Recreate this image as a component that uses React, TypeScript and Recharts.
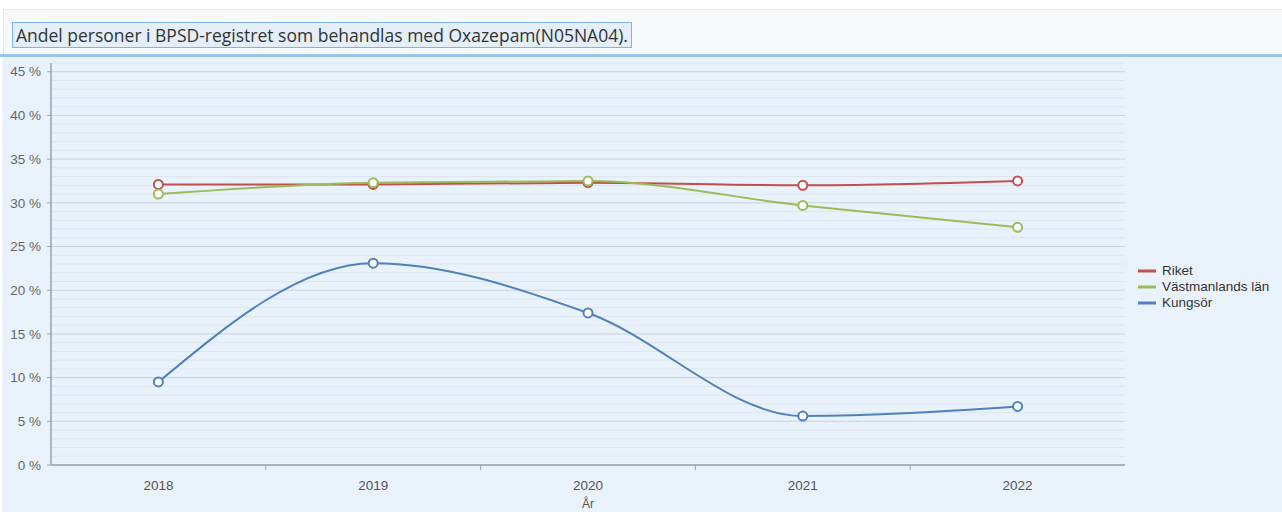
import { LineChart, Line, XAxis, YAxis, CartesianGrid, Legend } from 'recharts';

const years = [2018, 2019, 2020, 2021, 2022];
const riket = [32.1, 32.1, 32.3, 32.0, 32.5];
const vastmanland = [31.0, 32.3, 32.5, 29.7, 27.2];
const kungsor = [9.5, 23.1, 17.4, 5.6, 6.7];
const seriesNames = ['Riket', 'Västmanlands län', 'Kungsör'];

// labels at the years, small tick marks between the years
const xTicks = [2018, 2018.5, 2019, 2019.5, 2020, 2020.5, 2021, 2021.5, 2022];
// one grid line per percent, labels every fifth
const yTicks = [
  0, 1, 2, 3, 4, 5, 6, 7, 8, 9, 10, 11, 12, 13, 14, 15, 16, 17, 18, 19, 20, 21, 22, 23,
  24, 25, 26, 27, 28, 29, 30, 31, 32, 33, 34, 35, 36, 37, 38, 39, 40, 41, 42, 43, 44, 45, 46,
];

const data = years.map((year, i) => ({
  year,
  riket: riket[i],
  vastmanland: vastmanland[i],
  kungsor: kungsor[i],
}));

const FONT = '"Liberation Sans", Arial, sans-serif';
const AXIS = '#9aa3ab';

function XTick({ x, y, payload }: any) {
  if (Number.isInteger(payload.value)) {
    return (
      <text x={x} y={y + 25} textAnchor="middle" fill="#555" fontSize={13.5} fontFamily={FONT}>
        {payload.value}
      </text>
    );
  }
  return <line x1={x} x2={x} y1={y} y2={y + 5} stroke={AXIS} />;
}

function YTick({ x, y, payload }: any) {
  if (payload.value % 5 !== 0) return <g />;
  return (
    <g>
      <line x1={x - 4} x2={x} y1={y} y2={y} stroke={AXIS} />
      <text x={x - 10} y={y} dy="0.35em" textAnchor="end" fill="#666" fontSize={13.5} fontFamily={FONT}>
        {`${payload.value} %`}
      </text>
    </g>
  );
}

function gridLine(props: any) {
  const { x1, x2, y1, y2, index } = props;
  const major = yTicks[index] % 5 === 0;
  return (
    <line key={`g${index}`} x1={x1} x2={x2} y1={y1} y2={y2} stroke={major ? '#c9d2dc' : '#dce5ef'} strokeWidth={1} />
  );
}

function LegendBox({ payload }: any) {
  const items = [...(payload || [])].sort(
    (a: any, b: any) => seriesNames.indexOf(a.value) - seriesNames.indexOf(b.value),
  );
  return (
    <div
      style={{
        boxSizing: 'border-box', width: 144, paddingLeft: 13, paddingTop: 4,
        fontFamily: FONT, fontSize: 13.5, color: '#333',
      }}
    >
      {items.map((p: any) => (
        <div key={p.value} style={{ display: 'flex', alignItems: 'center', height: 16, whiteSpace: 'nowrap' }}>
          <svg width={18} height={4} style={{ marginRight: 6, flex: 'none' }}>
            <line x1={0} x2={18} y1={2} y2={2} stroke={p.color} strokeWidth={3} />
          </svg>
          <span>{p.value}</span>
        </div>
      ))}
    </div>
  );
}

export default function App() {
  return (
    <div style={{ position: 'absolute', left: 0, top: 0, width: 1282, height: 512, background: '#fff', overflow: 'hidden' }}>
      <div
        style={{
          position: 'absolute', left: 3, top: 9, width: 1279, height: 45,
          background: '#f7f8fa', borderTop: '1px solid #e3e6ea', borderLeft: '1px solid #e3e6ea',
        }}
      />
      <div
        style={{
          position: 'absolute', left: 12, top: 22, height: 24, padding: '0 3px',
          border: '1px solid #7fb3e6', background: '#e3eef9', color: '#333',
          fontFamily: '"Open Sans", "Noto Sans", sans-serif', fontSize: 17.5, lineHeight: '24px', whiteSpace: 'nowrap',
        }}
      >
        Andel personer i BPSD-registret som behandlas med Oxazepam(N05NA04).
      </div>
      <div style={{ position: 'absolute', left: 0, top: 54, width: 1282, height: 3, background: '#9cc4ea' }} />
      <div style={{ position: 'absolute', left: 2, top: 57, width: 1280, height: 455, background: '#e9f2fb' }} />
      <div style={{ position: 'absolute', left: 0, top: 57 }}>
        <LineChart width={1282} height={455} data={data} margin={{ top: 6, right: 13, bottom: 0, left: 0 }}>
          <CartesianGrid vertical={false} horizontal={gridLine} />
          <XAxis
            dataKey="year"
            type="number"
            domain={[2017.5, 2022.5]}
            ticks={xTicks}
            interval={0}
            height={47}
            tickSize={0}
            tickMargin={0}
            tick={<XTick />}
            axisLine={{ stroke: AXIS, strokeWidth: 1.5 }}
            label={{ value: 'År', position: 'insideBottom', offset: 4, fill: '#555', fontSize: 12, fontFamily: FONT }}
          />
          <YAxis
            width={51}
            domain={[0, 46]}
            ticks={yTicks}
            interval={0}
            tickSize={0}
            tickMargin={0}
            tickLine={false}
            tick={<YTick />}
            axisLine={{ stroke: AXIS, strokeWidth: 1.5 }}
          />
          <Legend layout="vertical" align="right" verticalAlign="middle" content={<LegendBox />} />
          <Line
            type="monotone" dataKey="riket" name="Riket" stroke="#c0504d" strokeWidth={2}
            dot={{ r: 4.5, fill: '#fff', strokeWidth: 2 }} isAnimationActive={false}
          />
          <Line
            type="monotone" dataKey="vastmanland" name="Västmanlands län" stroke="#9bbb59" strokeWidth={2}
            dot={{ r: 4.5, fill: '#fff', strokeWidth: 2 }} isAnimationActive={false}
          />
          <Line
            type="monotone" dataKey="kungsor" name="Kungsör" stroke="#4f81bd" strokeWidth={2}
            dot={{ r: 4.5, fill: '#fff', strokeWidth: 2 }} isAnimationActive={false}
          />
        </LineChart>
      </div>
    </div>
  );
}
